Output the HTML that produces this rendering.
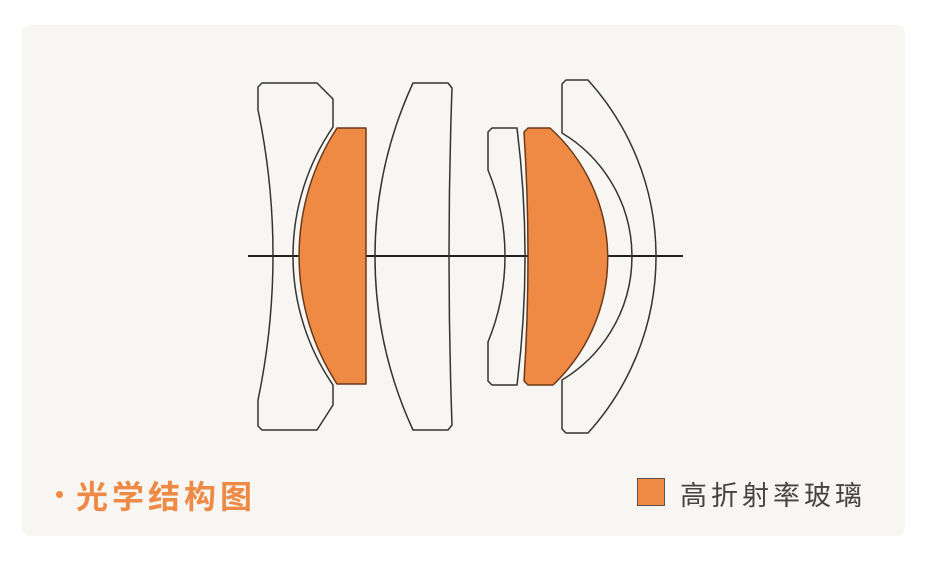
<!DOCTYPE html>
<html><head><meta charset="utf-8"><style>
html,body{margin:0;padding:0;background:#fff;width:938px;height:564px;overflow:hidden}
.card{position:absolute;left:22px;top:25px;width:883px;height:511px;background:#f8f6f2;border-radius:8px}
svg{position:absolute;left:0;top:0}
.t1{position:absolute;left:76px;top:472px;font:bold 32px "Liberation Sans","Noto Sans CJK SC",sans-serif;color:#ee8a45;letter-spacing:4px;white-space:nowrap}
.dot{position:absolute;left:56px;top:491px;width:7px;height:7px;border-radius:50%;background:#ee8a45}
.box{position:absolute;left:637px;top:478px;width:26px;height:26px;background:#ef8a45;border:1.5px solid #555}
.t2{position:absolute;left:680px;top:474px;font:27px "Liberation Sans","Noto Sans CJK SC",sans-serif;color:#444;letter-spacing:4px;white-space:nowrap}
</style></head><body>
<div class="card"></div>
<svg width="938" height="564" viewBox="0 0 938 564" fill="none" stroke="#333" stroke-width="1.5" stroke-linejoin="round">
<line x1="248" y1="256" x2="683" y2="256" stroke="#222" stroke-width="2"/>
<path d="M262 83 L317 83 L333 99 L333 127 A228 228 0 0 0 333 385 L333 405 L317 430 L262 430 L258 426 L258 400 A708 708 0 0 0 258 110 L258 87 Z"/>
<path d="M337 128 L366 128 L366 384 L337 384 A235 235 0 0 1 337 128 Z" fill="#ef8a45" stroke="#6a3a1a"/>
<path d="M413 83 L448 83 L452 88 A4733 4733 0 0 0 452 425 L448 430 L413 430 A415 415 0 0 1 413 83 Z"/>
<path d="M492 128 L517 128 A1036 1036 0 0 1 517 385 L492 385 L488 381 L488 342 A226 226 0 0 0 488 170 L488 132 Z"/>
<path d="M528 128 L550 128 A175 175 0 0 1 553 385 L528 385 L524 381 A1940 1940 0 0 0 524 132 Z" fill="#ef8a45" stroke="#6a3a1a"/>
<path d="M566 80 L588 80 A263 263 0 0 1 588 433 L566 433 L562 429 L562 380 A144 144 0 0 0 562 133 L562 84 Z"/>
</svg>
<div class="dot"></div>
<div class="t1">光学结构图</div>
<div class="box"></div>
<div class="t2">高折射率玻璃</div>
</body></html>
